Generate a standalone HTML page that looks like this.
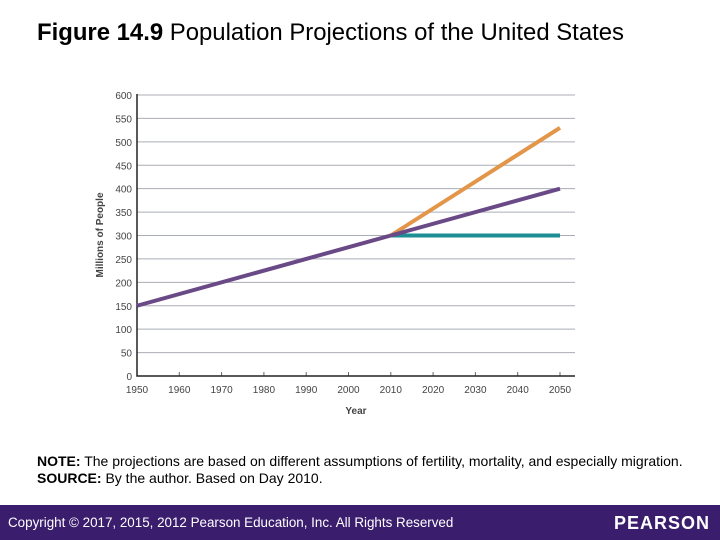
<!DOCTYPE html>
<html><head><meta charset="utf-8"><style>
body{margin:0;width:720px;height:540px;background:#fff;position:relative;overflow:hidden;font-family:"Liberation Sans",sans-serif}
.t{position:absolute;left:37px;top:19px;font-size:23.9px;color:#000}
.note{position:absolute;left:37px;top:453px;font-size:14px;line-height:17px;color:#000}
.foot{position:absolute;left:0;top:505px;width:720px;height:35px;background:#3b1d6e}
.foot span{position:absolute;left:8px;top:10px;color:#fff;font-size:13.4px}
.foot b{position:absolute;right:10px;top:8px;color:#fff;font-size:18px;letter-spacing:1px;font-weight:bold}
</style></head><body>
<div class="t"><b>Figure 14.9</b> Population Projections of the United States</div>
<svg id="c" width="720" height="540" style="position:absolute;left:0;top:0"></svg>
<div class="note"><b>NOTE:</b> The projections are based on different assumptions of fertility, mortality, and especially migration.<br><b>SOURCE:</b> By the author. Based on Day 2010.</div>
<div class="foot"><span>Copyright © 2017, 2015, 2012 Pearson Education, Inc. All Rights Reserved</span><b>PEARSON</b></div>
<script>
const years=[1950,1960,1970,1980,1990,2000,2010,2020,2030,2040,2050];
const yTicks=[0,50,100,150,200,250,300,350,400,450,500,550,600];
const histYears=[1950,2010];const histVals=[150,300];
const midYears=[2010,2050];const midVals=[300,400];
const highYears=[2010,2050];const highVals=[300,530];
const lowYears=[2010,2050];const lowVals=[300,300];
const svg=document.getElementById('c');const NS='http://www.w3.org/2000/svg';
const X=v=>137+(v-1950)/100*423;const Y=v=>376-v/600*281;
function mk(t,a,txt){const e=document.createElementNS(NS,t);for(const k in a)e.setAttribute(k,a[k]);if(txt!==undefined)e.textContent=txt;svg.appendChild(e);return e;}
yTicks.forEach(v=>{
 if(v>0){const g=mk('line',{x1:137,x2:575,y1:Y(v),y2:Y(v),stroke:'#a9adb6','stroke-width':1});
 
 }
 const t=mk('text',{x:132,y:Y(v)+4,'text-anchor':'end','font-size':10,fill:'#444'},v);
 
 
});
years.forEach(v=>{
 const t=mk('text',{x:X(v),y:393,'text-anchor':'middle','font-size':10,fill:'#444'},v);
 
 
 const k=mk('line',{x1:X(v),x2:X(v),y1:372,y2:376,stroke:'#666'});
 
 
});
const ax=mk('path',{d:'M137 94V376H575',stroke:'#222','stroke-width':1.5,fill:'none'});


function line(xs,vs,c,n){const l=mk('polyline',{points:xs.map((x,i)=>X(x)+','+Y(vs[i])).join(' '),stroke:c,'stroke-width':4,fill:'none'});
 
 }
line(lowYears,lowVals,'#1e8e96','low-projection-line');
line(highYears,highVals,'#e3964a','high-projection-line');
line(midYears,midVals,'#6a4a86','middle-projection-line');
line(histYears,histVals,'#6a4a86','historical-line');
const xl=mk('text',{x:356,y:414,'text-anchor':'middle','font-size':10,'font-weight':'bold',fill:'#444'},'Year');


const yl=mk('text',{x:0,y:0,'text-anchor':'middle','font-size':10,'font-weight':'bold',fill:'#444',transform:'translate(103,235) rotate(-90)'},'Millions of People');


</script>
</body></html>
